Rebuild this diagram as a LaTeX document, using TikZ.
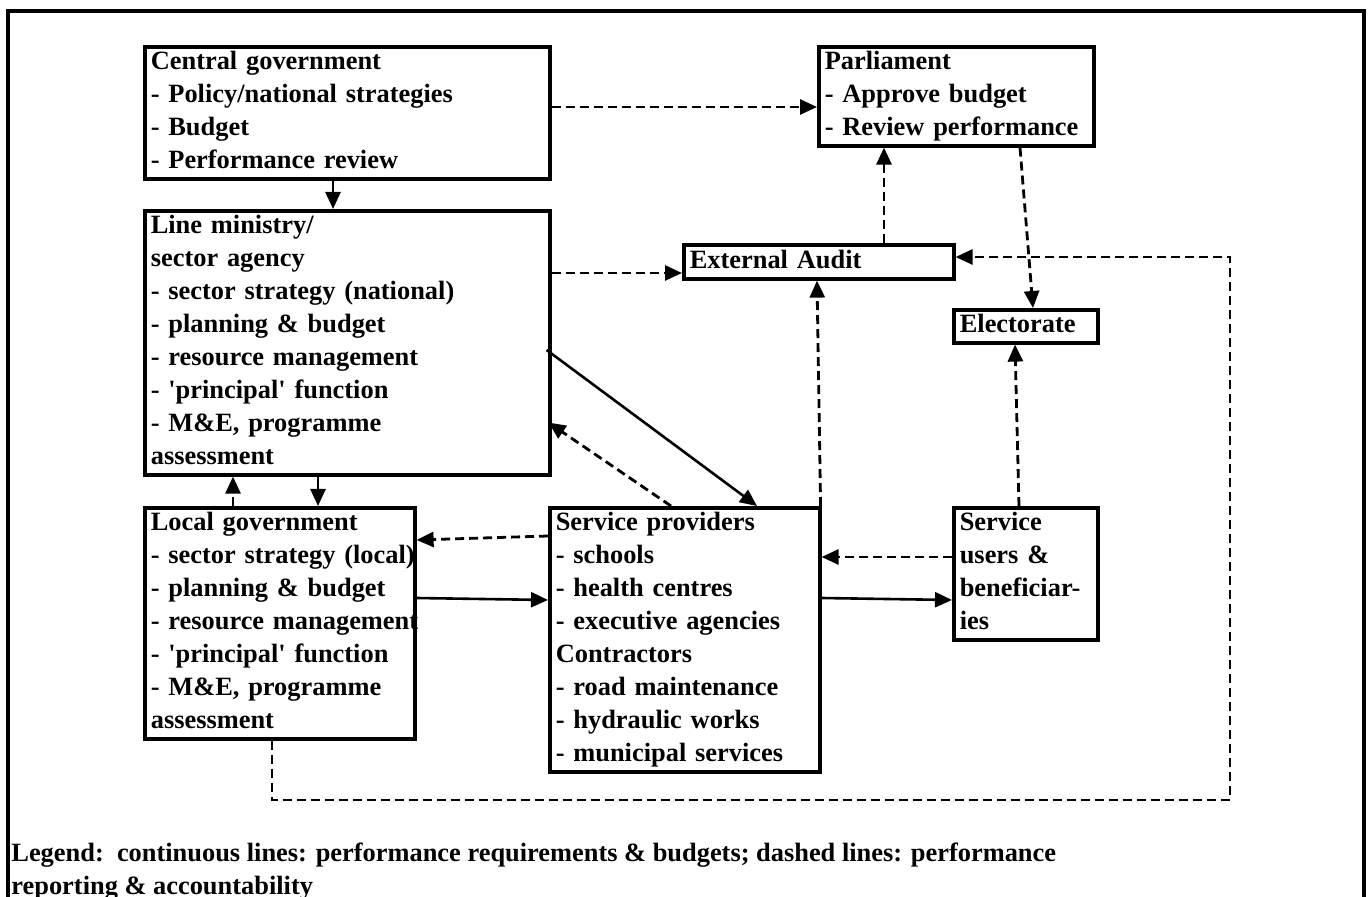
\documentclass[tikz,border=0pt]{standalone}
\usepackage{fontspec}
\setmainfont{Liberation Serif}
\usetikzlibrary{arrows.meta,calc}
\newcommand\bfnt{\fontsize{13.2}{16.5}\selectfont\bfseries}
\newcommand\boxlines[1]{\noindent\begin{tabular}{@{}l@{}}#1\end{tabular}}
\newcommand\sq{\textquotesingle}
\begin{document}
\begin{tikzpicture}[x=0.5pt,y=-0.5pt,
  box/.style={draw, line width=1.8pt, anchor=north west, inner xsep=3pt, inner ysep=0pt,
              align=left, font=\bfnt},
  conn/.style={line width=1.3pt, -{Triangle[length=8.5pt,width=7.5pt]}},
  dconn/.style={conn, line width=1.4pt, dash pattern=on 4.5pt off 2.5pt}]
\useasboundingbox (0,0) rectangle (1370,897);
\clip (0,0) rectangle (1370,897);
\draw[line width=1.8pt] (8,11) rectangle (1364,960);

% boxes
\node[box, text width=196.5pt, minimum height=65.5pt] (cg) at (143,45)
  {\boxlines{Central government\\- Policy/national strategies\\- Budget\\- Performance review}};
\node[box, text width=131.5pt, minimum height=49.5pt] (parl) at (817,45)
  {\boxlines{Parliament\\- Approve budget\\- Review performance}};
\node[box, text width=196.5pt, minimum height=131.5pt] (lm) at (143,209)
  {\boxlines{Line ministry/\\sector agency\\- sector strategy (national)\\- planning \& budget\\- resource management\\- \sq principal\sq{} function\\- M\&E, programme\\assessment}};
\node[box, text width=129pt, minimum height=17pt] (ea) at (682,243)
  {\boxlines{External Audit}};
\node[box, text width=66pt, minimum height=16.5pt] (el) at (952,308)
  {\boxlines{Electorate}};
\node[box, text width=129pt, minimum height=115pt] (lg) at (143,506)
  {\boxlines{Local government\\- sector strategy (local)\\- planning \& budget\\- resource management\\- \sq principal\sq{} function\\- M\&E, programme\\assessment}};
\node[box, text width=129pt, minimum height=132pt] (sp) at (548,506)
  {\boxlines{Service providers\\- schools\\- health centres\\- executive agencies\\Contractors\\- road maintenance\\- hydraulic works\\- municipal services}};
\node[box, text width=66pt, minimum height=65pt] (su) at (952,506)
  {\boxlines{Service\\users \&\\beneficiar-\\ies}};

% legend
\node[anchor=north west, inner sep=0pt, font=\bfnt] (legend) at (11,838)
  {\boxlines{Legend:\ \ continuous lines: performance requirements \& budgets; dashed lines: performance\\reporting \& accountability}};

% connectors
\draw[conn] ($(cg.south west)+(190,0)$) -- ($(lm.north west)+(190,0)$);
\draw[dconn] ($(cg.north east)+(0,62)$) -- ($(parl.north west)+(0,62)$);
\draw[dconn] ($(lm.north east)+(0,64)$) -- ($(ea.north west)+(0,30)$);
\draw[dconn] ($(ea.north west)+(202,0)$) -- ($(parl.south west)+(67,0)$);
\draw[dconn] ($(parl.south west)+(203,0)$) -- ($(el.north west)+(81,0)$);
\draw[dconn] ($(su.north west)+(67,0)$) -- ($(el.south west)+(63,0)$);
\draw[dconn] ($(sp.north east)+(-1,0)$) -- ($(ea.south west)+(135,0)$);
\coordinate (loopA) at (272,800);
\coordinate (loopB) at (1230,800);
\draw[dconn] ($(lg.south west)+(129,0)$) -- (loopA) -- (loopB) |- ($(ea.north east)+(0,14)$);
\draw[conn] ($(lm.north east)+(-5,141)$) -- ($(sp.north west)+(209,0)$);
\draw[dconn] ($(sp.north west)+(123,0)$) -- ($(lm.south east)+(-3,-54)$);
\draw[dconn] ($(lg.north west)+(90,0)$) -- ($(lm.south west)+(90,0)$);
\draw[conn] ($(lm.south west)+(175,0)$) -- ($(lg.north west)+(175,0)$);
\draw[dconn] ($(sp.north west)+(0,30)$) -- ($(lg.north east)+(0,34)$);
\draw[conn] ($(lg.north east)+(0,92)$) -- ($(sp.north west)+(0,94)$);
\draw[dconn] ($(su.north west)+(0,51)$) -- ($(sp.north east)+(0,51)$);
\draw[conn] ($(sp.north east)+(0,92)$) -- ($(su.north west)+(0,94)$);
\end{tikzpicture}
\end{document}
